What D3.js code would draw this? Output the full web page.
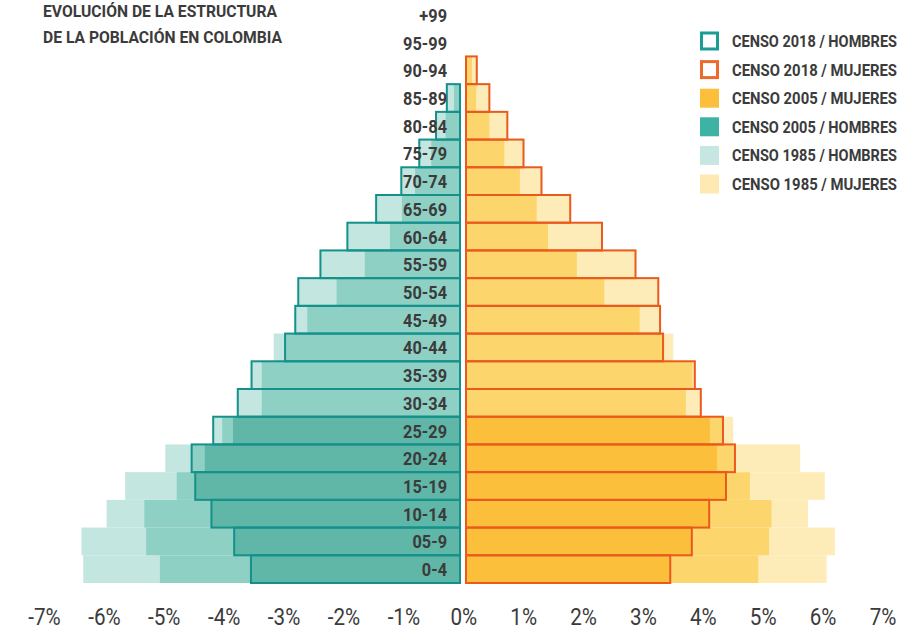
<!DOCTYPE html>
<html><head><meta charset="utf-8">
<script src="https://cdn.jsdelivr.net/npm/d3@7"></script>
<style>
body{margin:0;background:#fff}
svg{display:block}
text{font-family:Roboto,"Liberation Sans",sans-serif;fill:#3b3b3b}
</style>
</head><body>
<svg id="chart" width="915" height="629"></svg>
<script>
// ---- data (percent of total population), bottom row first ----
const ages = ["0-4","05-9","10-14","15-19","20-24","25-29","30-34","35-39","40-44","45-49","50-54","55-59","60-64","65-69","70-74","75-79","80-84","85-89","90-94","95-99","+99"];
const hombres2018 = [3.49,3.77,4.15,4.42,4.48,4.12,3.71,3.48,2.92,2.75,2.70,2.33,1.88,1.40,0.98,0.68,0.40,0.22,0,0,0];
const hombres2005 = [5.01,5.24,5.27,4.73,4.26,3.79,3.31,3.31,3.11,2.55,2.06,1.59,1.17,0.97,0.75,0.48,0.24,0.10,0,0,0];
const hombres1985 = [6.29,6.32,5.90,5.59,4.92,3.97,null,null,null,null,null,null,null,null,null,null,null,null,null,null,null];
const mujeres2018 = [3.41,3.77,4.06,4.34,4.49,4.29,3.92,3.82,3.29,3.24,3.21,2.83,2.27,1.74,1.26,0.96,0.69,0.39,0.18,0,0];
const mujeres2005 = [4.88,5.06,5.10,4.74,4.19,4.07,3.67,3.78,3.46,2.90,2.31,1.85,1.37,1.18,0.90,0.64,0.39,0.17,0.10,0,0];
const mujeres1985 = [6.02,6.16,5.71,5.99,5.58,4.46,null,null,null,null,null,null,null,null,null,null,null,null,null,null,null];
const tickValues = [-7,-6,-5,-4,-3,-2,-1,0,1,2,3,4,5,6,7];
const titleLines = ["EVOLUCIÓN DE LA ESTRUCTURA","DE LA POBLACIÓN EN COLOMBIA"];
const legendItems = [
  {label:"CENSO 2018 / HOMBRES", type:"outline", color:"#1b9d95"},
  {label:"CENSO 2018 / MUJERES", type:"outline", color:"#ee6a2c"},
  {label:"CENSO 2005 / MUJERES", type:"fill", color:"#fbbf3c"},
  {label:"CENSO 2005 / HOMBRES", type:"fill", color:"#3db3a6"},
  {label:"CENSO 1985 / HOMBRES", type:"fill", color:"#c6e7e1"},
  {label:"CENSO 1985 / MUJERES", type:"fill", color:"#fde9b1"}
];

// ---- styles ----
const maleShades = ["#c4e6e0","#8fd0c5","#60b6a7"];   // 1, 2, 3 overlapping censuses
const femaleShades = ["#feecb8","#fdd56d","#fbbf3b"];
const maleStroke = "#13918a";
const femaleStroke = "#e95a1c";

const svg = d3.select("#chart");
const unit = 59.9;
const xMale = d3.scaleLinear().domain([0,7]).range([460, 460 - 7*unit]);
const xFemale = d3.scaleLinear().domain([0,7]).range([466, 466 + 7*unit]);
const xTick = d3.scaleLinear().domain([-7,7]).range([44.5, 883]);
const y = d3.scaleBand().domain(ages.slice().reverse()).range([1, 583]).padding(0);

const rows = ages.map((a,i)=>({age:a,
  m:[hombres1985[i],hombres2005[i],hombres2018[i]],
  f:[mujeres1985[i],mujeres2005[i],mujeres2018[i]],
  m18:hombres2018[i], f18:mujeres2018[i]}));

const gBars = svg.append("g");
rows.forEach(r=>{
  const ms = r.m.filter(v=>v!=null && v>0).sort((a,b)=>b-a);
  ms.forEach((v,k)=>{
    gBars.append("rect").attr("x",xMale(v)).attr("y",y(r.age))
      .attr("width",xMale(0)-xMale(v)).attr("height",y.bandwidth())
      .attr("fill",maleShades[k]);
  });
  const fs = r.f.filter(v=>v!=null && v>0).sort((a,b)=>b-a);
  fs.forEach((v,k)=>{
    gBars.append("rect").attr("x",xFemale(0)).attr("y",y(r.age))
      .attr("width",xFemale(v)-xFemale(0)).attr("height",y.bandwidth())
      .attr("fill",femaleShades[k]);
  });
});
// 2018 outlines
svg.append("g").selectAll("rect").data(rows.filter(r=>r.m18>0)).join("rect")
  .attr("x",d=>xMale(d.m18)).attr("y",d=>y(d.age))
  .attr("width",d=>xMale(0)-xMale(d.m18)).attr("height",y.bandwidth())
  .attr("fill","none").attr("stroke",maleStroke).attr("stroke-width",2);
svg.append("g").selectAll("rect").data(rows.filter(r=>r.f18>0)).join("rect")
  .attr("x",xFemale(0)).attr("y",d=>y(d.age))
  .attr("width",d=>xFemale(d.f18)-xFemale(0)).attr("height",y.bandwidth())
  .attr("fill","none").attr("stroke",femaleStroke).attr("stroke-width",2);

// age labels (condensed by horizontal scaling)
svg.append("g").selectAll("text").data(ages).join("text")
  .attr("transform",d=>`translate(447,${y(d)+y.bandwidth()/2+7}) scale(0.86,1)`)
  .attr("text-anchor","end").attr("font-size",19).attr("font-weight","bold")
  .attr("fill","#3a3a3a").text(d=>d);

// axis tick labels
svg.append("g").selectAll("text").data(tickValues).join("text")
  .attr("transform",d=>`translate(${xTick(d)},625) scale(0.86,1)`)
  .attr("text-anchor","middle")
  .attr("font-size",24).attr("fill","#444").text(d=>d+"%");

// title
const titleWidths = [234, 239];
svg.append("g").selectAll("text").data(titleLines).join("text")
  .attr("x",43).attr("y",(d,i)=>17+i*26).attr("font-size",17).attr("font-weight","bold")
  .attr("textLength",(d,i)=>titleWidths[i]).attr("lengthAdjust","spacingAndGlyphs")
  .attr("fill","#3a3a3a").text(d=>d);

// legend
const lg = svg.append("g");
legendItems.forEach((it,i)=>{
  const cy = 41 + i*28.6;
  if(it.type==="outline"){
    lg.append("rect").attr("x",701.5).attr("y",cy-8).attr("width",16).attr("height",16)
      .attr("fill","#fff").attr("stroke",it.color).attr("stroke-width",3);
  } else {
    lg.append("rect").attr("x",700).attr("y",cy-9.5).attr("width",19).attr("height",19).attr("fill",it.color);
  }
  lg.append("text").attr("x",732).attr("y",cy+6).attr("font-size",16).attr("font-weight","bold")
    .attr("textLength",165).attr("lengthAdjust","spacingAndGlyphs")
    .attr("fill","#3a3a3a").text(it.label);
});
</script>
</body></html>
